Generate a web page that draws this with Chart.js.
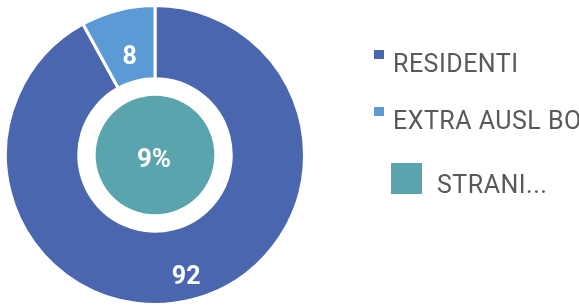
<!DOCTYPE html>
<html><head><meta charset="utf-8">
<script src="https://cdn.jsdelivr.net/npm/chart.js@4"></script>
<style>html,body{margin:0;padding:0;background:#fff;}#wrap{width:579px;height:306px;position:relative;}</style>
</head><body><div id="wrap"><canvas id="c" width="579" height="306"></canvas></div>
<script>
const categories = ['RESIDENTI', 'EXTRA AUSL BO'];
const values = [92, 8];
const centerCategory = 'STRANI...';
const centerValue = 9;
const colors = ['#4a66ae', '#5b9bd5'];
const centerColor = '#5aa4ad';

const FONT = 'Roboto, "Open Sans", sans-serif';

const labelPlugin = {
  id: 'labels',
  afterDatasetsDraw(chart) {
    const ctx = chart.ctx;
    const meta = chart.getDatasetMeta(0);
    const fr = [0.67, 0.35];
    let cx = 0, cy = 0, outer = 0;
    meta.data.forEach((arc, i) => {
      const p = arc.getProps(['x','y','startAngle','endAngle','innerRadius','outerRadius'], true);
      cx = p.x; cy = p.y; outer = p.outerRadius;
      const mid = (p.startAngle + p.endAngle) / 2;
      const r = p.innerRadius + (p.outerRadius - p.innerRadius) * fr[i];
      ctx.save();
      ctx.fillStyle = '#ffffff';
      ctx.font = 'bold 25px ' + FONT;
      ctx.textAlign = 'center';
      ctx.textBaseline = 'middle';
      ctx.fillText(String(values[i]), cx + Math.cos(mid) * r, cy + Math.sin(mid) * r + 1);
      ctx.restore();
    });
    ctx.save();
    ctx.beginPath();
    ctx.arc(cx, cy, outer * 0.397, 0, Math.PI * 2);
    ctx.fillStyle = centerColor;
    ctx.fill();
    ctx.fillStyle = '#ffffff';
    ctx.font = 'bold 26px ' + FONT;
    ctx.textAlign = 'center';
    ctx.textBaseline = 'middle';
    ctx.fillText(centerValue + '%', cx - 1, cy + 5);
    ctx.restore();
  },
  afterDraw(chart) {
    const ctx = chart.ctx;
    ctx.save();
    ctx.font = '25px ' + FONT;
    try { ctx.letterSpacing = '0.5px'; } catch (e) {}
    ctx.fillStyle = '#595959';
    ctx.textBaseline = 'alphabetic';
    ctx.textAlign = 'left';
    const rows = [72, 129];
    categories.forEach((c, i) => {
      ctx.fillStyle = colors[i];
      ctx.fillRect(374, rows[i] - 22, 10, 9);
      ctx.fillStyle = '#595959';
      ctx.fillText(c, 393, rows[i]);
    });
    ctx.fillStyle = centerColor;
    ctx.fillRect(391, 163, 31, 31);
    ctx.fillStyle = '#595959';
    ctx.fillText(centerCategory, 437, 193);
    ctx.restore();
  }
};

new Chart(document.getElementById('c'), {
  type: 'doughnut',
  data: {
    labels: categories,
    datasets: [{
      data: values,
      backgroundColor: colors,
      borderColor: '#ffffff',
      borderWidth: 3,
      hoverOffset: 0
    }]
  },
  options: {
    responsive: false,
    animation: false,
    cutout: '51%',
    layout: { padding: { left: 4, right: 273, top: 4, bottom: 0 } },
    plugins: { legend: { display: false }, tooltip: { enabled: false } }
  },
  plugins: [labelPlugin]
});
</script>
</body></html>
